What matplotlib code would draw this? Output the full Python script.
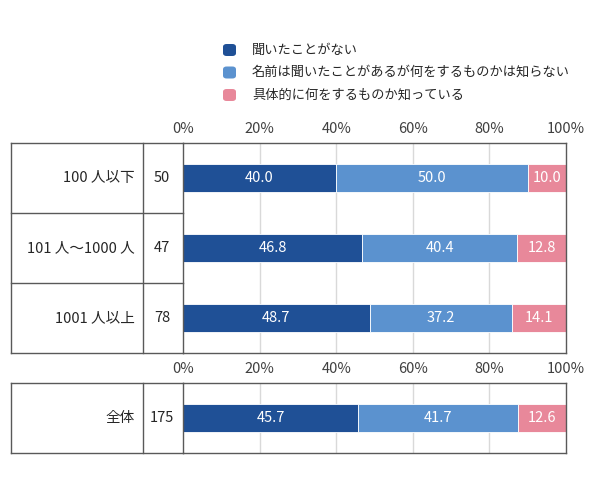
import matplotlib
matplotlib.use('Agg')
import matplotlib.pyplot as plt
from matplotlib.lines import Line2D
from matplotlib.patches import FancyBboxPatch

plt.rcParams['font.family'] = ['Noto Sans CJK JP', 'DejaVu Sans']

# data
categories = ['100 人以下', '101 人～1000 人', '1001 人以上']
counts = [50, 47, 78]
never_heard = [40.0, 46.8, 48.7]
name_only = [50.0, 40.4, 37.2]
know_what = [10.0, 12.8, 14.1]

total_label = '全体'
total_count = 175
total_values = [45.7, 41.7, 12.6]

series_names = ['聞いたことがない',
                '名前は聞いたことがあるが何をするものかは知らない',
                '具体的に何をするものか知っている']
colors = ['#1f5096', '#5b92cf', '#e8889a']
ticks = [0, 20, 40, 60, 80, 100]

W, H = 590, 486
fig = plt.figure(figsize=(W / 100, H / 100), dpi=100)

def fx(x):
    return x / W

def fy(y):
    return 1 - y / H

line_col = '#595959'
text_col = '#262626'

def hline(x0, x1, y):
    fig.add_artist(Line2D([fx(x0), fx(x1)], [fy(y), fy(y)], color=line_col, lw=1))

def vline(x, y0, y1):
    fig.add_artist(Line2D([fx(x), fx(x)], [fy(y0), fy(y1)], color=line_col, lw=1))

def bar_axes(top, bottom, rows):
    ax = fig.add_axes([fx(183), fy(bottom), fx(566) - fx(183), (bottom - top) / H])
    ax.set_xlim(0, 100)
    ax.set_ylim(rows - 0.5, -0.5)
    ax.set_yticks([])
    ax.xaxis.tick_top()
    ax.set_xticks(ticks)
    ax.set_xticklabels([f'{t}%' for t in ticks], fontsize=10.5, color='#404040')
    ax.tick_params(axis='x', length=0, pad=5)
    for t in ticks[1:-1]:
        ax.axvline(t, color='#d9d9d9', lw=1, zorder=0)
    for s in ax.spines.values():
        s.set_color(line_col)
        s.set_linewidth(1)
    return ax

def draw_bars(ax, rows_values):
    for i, vals in enumerate(rows_values):
        left = 0
        for v, c in zip(vals, colors):
            ax.barh(i, v, left=left, height=0.414, color=c, edgecolor='white', lw=0.6, zorder=2)
            ax.text(left + v / 2, i, f'{v:.1f}', ha='center', va='center',
                    color='white', fontsize=10.5, zorder=3)
            left += v

# top block
ax1 = bar_axes(143, 353, len(categories))
draw_bars(ax1, list(zip(never_heard, name_only, know_what)))
hline(11, 183, 143)
hline(11, 183, 353)
vline(11, 143, 353)
vline(143, 143, 353)
for k in range(1, len(categories)):
    hline(11, 183, 143 + 70 * k)
for k, (cat, n) in enumerate(zip(categories, counts)):
    yc = 178 + 70 * k
    fig.text(fx(135), fy(yc), cat, ha='right', va='center', fontsize=10.5, color=text_col)
    fig.text(fx(162), fy(yc), str(n), ha='center', va='center', fontsize=10.5, color=text_col)

# total block
ax2 = bar_axes(383, 453, 1)
draw_bars(ax2, [total_values])
hline(11, 183, 383)
hline(11, 183, 453)
vline(11, 383, 453)
vline(143, 383, 453)
fig.text(fx(135), fy(418), total_label, ha='right', va='center', fontsize=10.5, color=text_col)
fig.text(fx(162), fy(418), str(total_count), ha='center', va='center', fontsize=10.5, color=text_col)

# legend
for k, (name, c) in enumerate(zip(series_names, colors)):
    yc = 50 + 22.5 * k
    fig.add_artist(FancyBboxPatch((fx(223), fy(yc + 6)), fx(13), 12 / H,
                                  boxstyle='round,pad=0,rounding_size=0.006',
                                  transform=fig.transFigure, color=c, lw=0))
    fig.text(fx(252), fy(yc), name, ha='left', va='center', fontsize=9.5, color=text_col)

fig.savefig('out.png', dpi=100)
